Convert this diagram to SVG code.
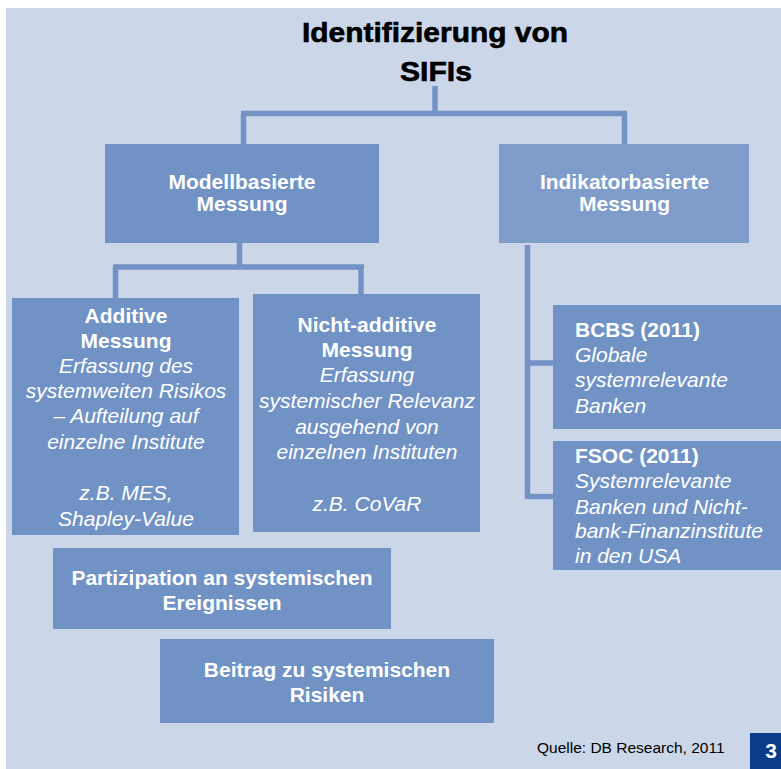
<svg xmlns="http://www.w3.org/2000/svg" width="781" height="769" viewBox="0 0 781 769">
<style>
.bg{fill:#CBD7E9}
.box{fill:#7092C5}
.box2{fill:#7F9CCB}
.t{font-family:"Liberation Sans",Arial,sans-serif;font-size:21px;fill:#fff}
.b{font-weight:bold}
.i{font-style:italic}
.c{text-anchor:middle}
.title{font-family:"Liberation Sans",Arial,sans-serif;font-weight:bold;font-size:27px;fill:#000;text-anchor:middle;stroke:#000;stroke-width:0.6}
.con{fill:none;stroke:#7393C7;stroke-width:5.5}
</style>
<rect x="0" y="0" width="781" height="769" fill="#fff"/>
<rect class="bg" x="6" y="8" width="775" height="761"/>
<g id="title">
<text class="title" x="435" y="42" textLength="266" lengthAdjust="spacingAndGlyphs">Identifizierung von</text>
<text class="title" x="436" y="81" textLength="72" lengthAdjust="spacingAndGlyphs">SIFIs</text>
</g>
<g id="connectors">
<path class="con" d="M435,86 V113.5 M241,113.5 H627 M243.5,113.5 V144 M624.5,113.5 V144"/>
<path class="con" d="M239.5,243 V267 M113,267 H364 M115.5,267 V298 M361,267 V294"/>
<path class="con" d="M527.5,245 V499 M527.5,363 H553 M527.5,496.5 H553"/>
</g>
<g id="modell">
<rect class="box" x="105" y="144" width="274" height="99"/>
<text class="t b c" x="242" y="189">Modellbasierte</text>
<text class="t b c" x="242" y="211">Messung</text>
</g>
<g id="indikator">
<rect class="box2" x="499" y="144" width="250" height="99"/>
<text class="t b c" x="624.5" y="189">Indikatorbasierte</text>
<text class="t b c" x="624.5" y="211">Messung</text>
</g>
<g id="additive">
<rect class="box" x="12" y="298" width="227" height="237"/>
<text class="t c" x="126" y="323"><tspan class="b">Additive</tspan><tspan class="b" x="126" y="348">Messung</tspan><tspan class="i" x="126" y="373">Erfassung des</tspan><tspan class="i" x="126" y="398">systemweiten Risikos</tspan><tspan class="i" x="126" y="423">– Aufteilung auf</tspan><tspan class="i" x="126" y="449">einzelne Institute</tspan><tspan class="i" x="126" y="500">z.B. MES,</tspan><tspan class="i" x="126" y="526">Shapley-Value</tspan></text>
</g>
<g id="nichtadditive">
<rect class="box" x="253" y="294" width="227" height="238"/>
<text class="t c" x="367" y="332"><tspan class="b">Nicht-additive</tspan><tspan class="b" x="367" y="357">Messung</tspan><tspan class="i" x="367" y="382">Erfassung</tspan><tspan class="i" x="367" y="408">systemischer Relevanz</tspan><tspan class="i" x="367" y="434">ausgehend von</tspan><tspan class="i" x="367" y="459">einzelnen Instituten</tspan><tspan class="i" x="367" y="511">z.B. CoVaR</tspan></text>
</g>
<g id="bcbs">
<rect class="box" x="553" y="305" width="228" height="124"/>
<text class="t" x="575" y="337"><tspan class="b">BCBS (2011)</tspan><tspan class="i" x="575" y="362">Globale</tspan><tspan class="i" x="575" y="387">systemrelevante</tspan><tspan class="i" x="575" y="413">Banken</tspan></text>
</g>
<g id="fsoc">
<rect class="box" x="553" y="441" width="228" height="129"/>
<text class="t" x="575" y="463"><tspan class="b">FSOC (2011)</tspan><tspan class="i" x="575" y="488">Systemrelevante</tspan><tspan class="i" x="575" y="514">Banken und Nicht-</tspan><tspan class="i" x="575" y="538">bank-Finanzinstitute</tspan><tspan class="i" x="575" y="563">in den USA</tspan></text>
</g>
<g id="partizipation">
<rect class="box" x="53" y="548" width="338" height="81"/>
<text class="t b c" x="222" y="585">Partizipation an systemischen</text>
<text class="t b c" x="222" y="610">Ereignissen</text>
</g>
<g id="beitrag">
<rect class="box" x="160" y="639" width="334" height="84"/>
<text class="t b c" x="327" y="677">Beitrag zu systemischen</text>
<text class="t b c" x="327" y="702">Risiken</text>
</g>
<g id="footer">
<text x="537" y="753" font-family="'Liberation Sans',Arial,sans-serif" font-size="15.5" fill="#000">Quelle: DB Research, 2011</text>
<rect x="750" y="733" width="31" height="36" fill="#0A3A8A"/>
<text x="771" y="758" font-family="'Liberation Sans',Arial,sans-serif" font-size="21" font-weight="bold" fill="#fff" text-anchor="middle">3</text>
</g>
</svg>
